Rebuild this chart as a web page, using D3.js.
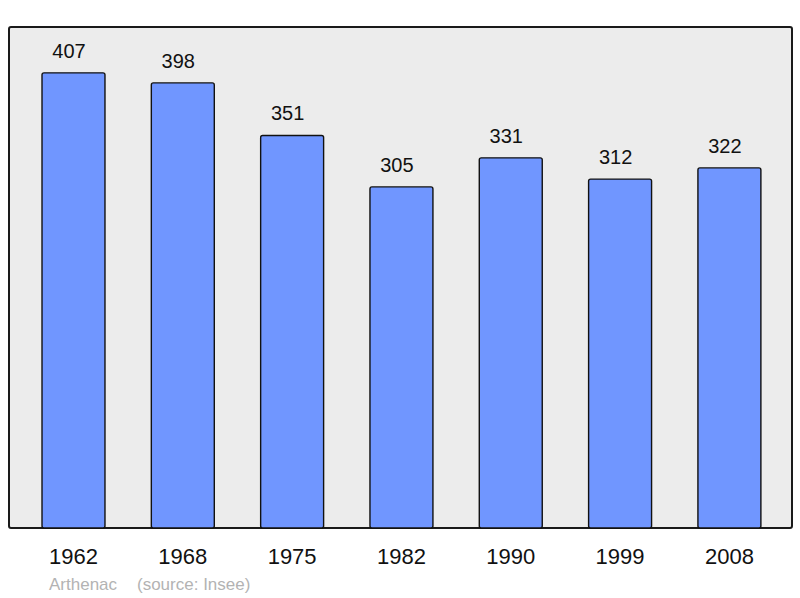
<!DOCTYPE html>
<html>
<head>
<meta charset="utf-8">
<script src="https://cdn.jsdelivr.net/npm/d3@7"></script>
<style>
  body { margin: 0; background: #fff; }
  svg { display: block; font-family: "Liberation Sans", Arial, sans-serif; }
</style>
</head>
<body>
<svg width="800" height="598"></svg>
<script>
const annees = ['1962', '1968', '1975', '1982', '1990', '1999', '2008'];
const population = [407, 398, 351, 305, 331, 312, 322];
const commune = 'Arthenac';
const source = '(source: Insee)';

const svg = d3.select('svg');

const x = d3.scaleBand()
    .domain(annees)
    .range([11.4, 791.5])
    .paddingInner(0.424)
    .paddingOuter(0.28);

const y = d3.scaleLinear()
    .domain([0, 448])
    .range([528, 27]);

// cadre
svg.append('rect')
    .attr('x', 9)
    .attr('y', 27)
    .attr('width', 783)
    .attr('height', 501)
    .attr('rx', 2)
    .attr('fill', '#ececec')
    .attr('stroke', '#1a1a1a')
    .attr('stroke-width', 2);

const barre = svg.append('g').selectAll('g')
    .data(population)
    .join('g');

barre.append('rect')
    .attr('x', (d, i) => x(annees[i]))
    .attr('y', d => y(d))
    .attr('width', x.bandwidth())
    .attr('height', d => y(0) - y(d))
    .attr('rx', 2)
    .attr('fill', '#7096ff')
    .attr('stroke', '#111')
    .attr('stroke-width', 1.4);

// les valeurs sont un peu decalees a gauche dans l'original
barre.append('text')
    .text(d => d)
    .attr('x', (d, i) => x(annees[i]) + x.bandwidth() / 2 - 4.5)
    .attr('y', d => y(d) - 15)
    .attr('text-anchor', 'middle')
    .attr('font-size', 20)
    .attr('fill', '#111');

svg.append('g').selectAll('text')
    .data(annees)
    .join('text')
    .text(d => d)
    .attr('x', d => x(d) + x.bandwidth() / 2)
    .attr('y', 564)
    .attr('text-anchor', 'middle')
    .attr('font-size', 22)
    .attr('fill', '#111');

svg.append('text')
    .text(commune)
    .attr('x', 49)
    .attr('y', 590)
    .attr('font-size', 17)
    .attr('fill', '#b3b3b3');

svg.append('text')
    .text(source)
    .attr('x', 137)
    .attr('y', 590)
    .attr('font-size', 17)
    .attr('fill', '#b3b3b3');
</script>
</body>
</html>
